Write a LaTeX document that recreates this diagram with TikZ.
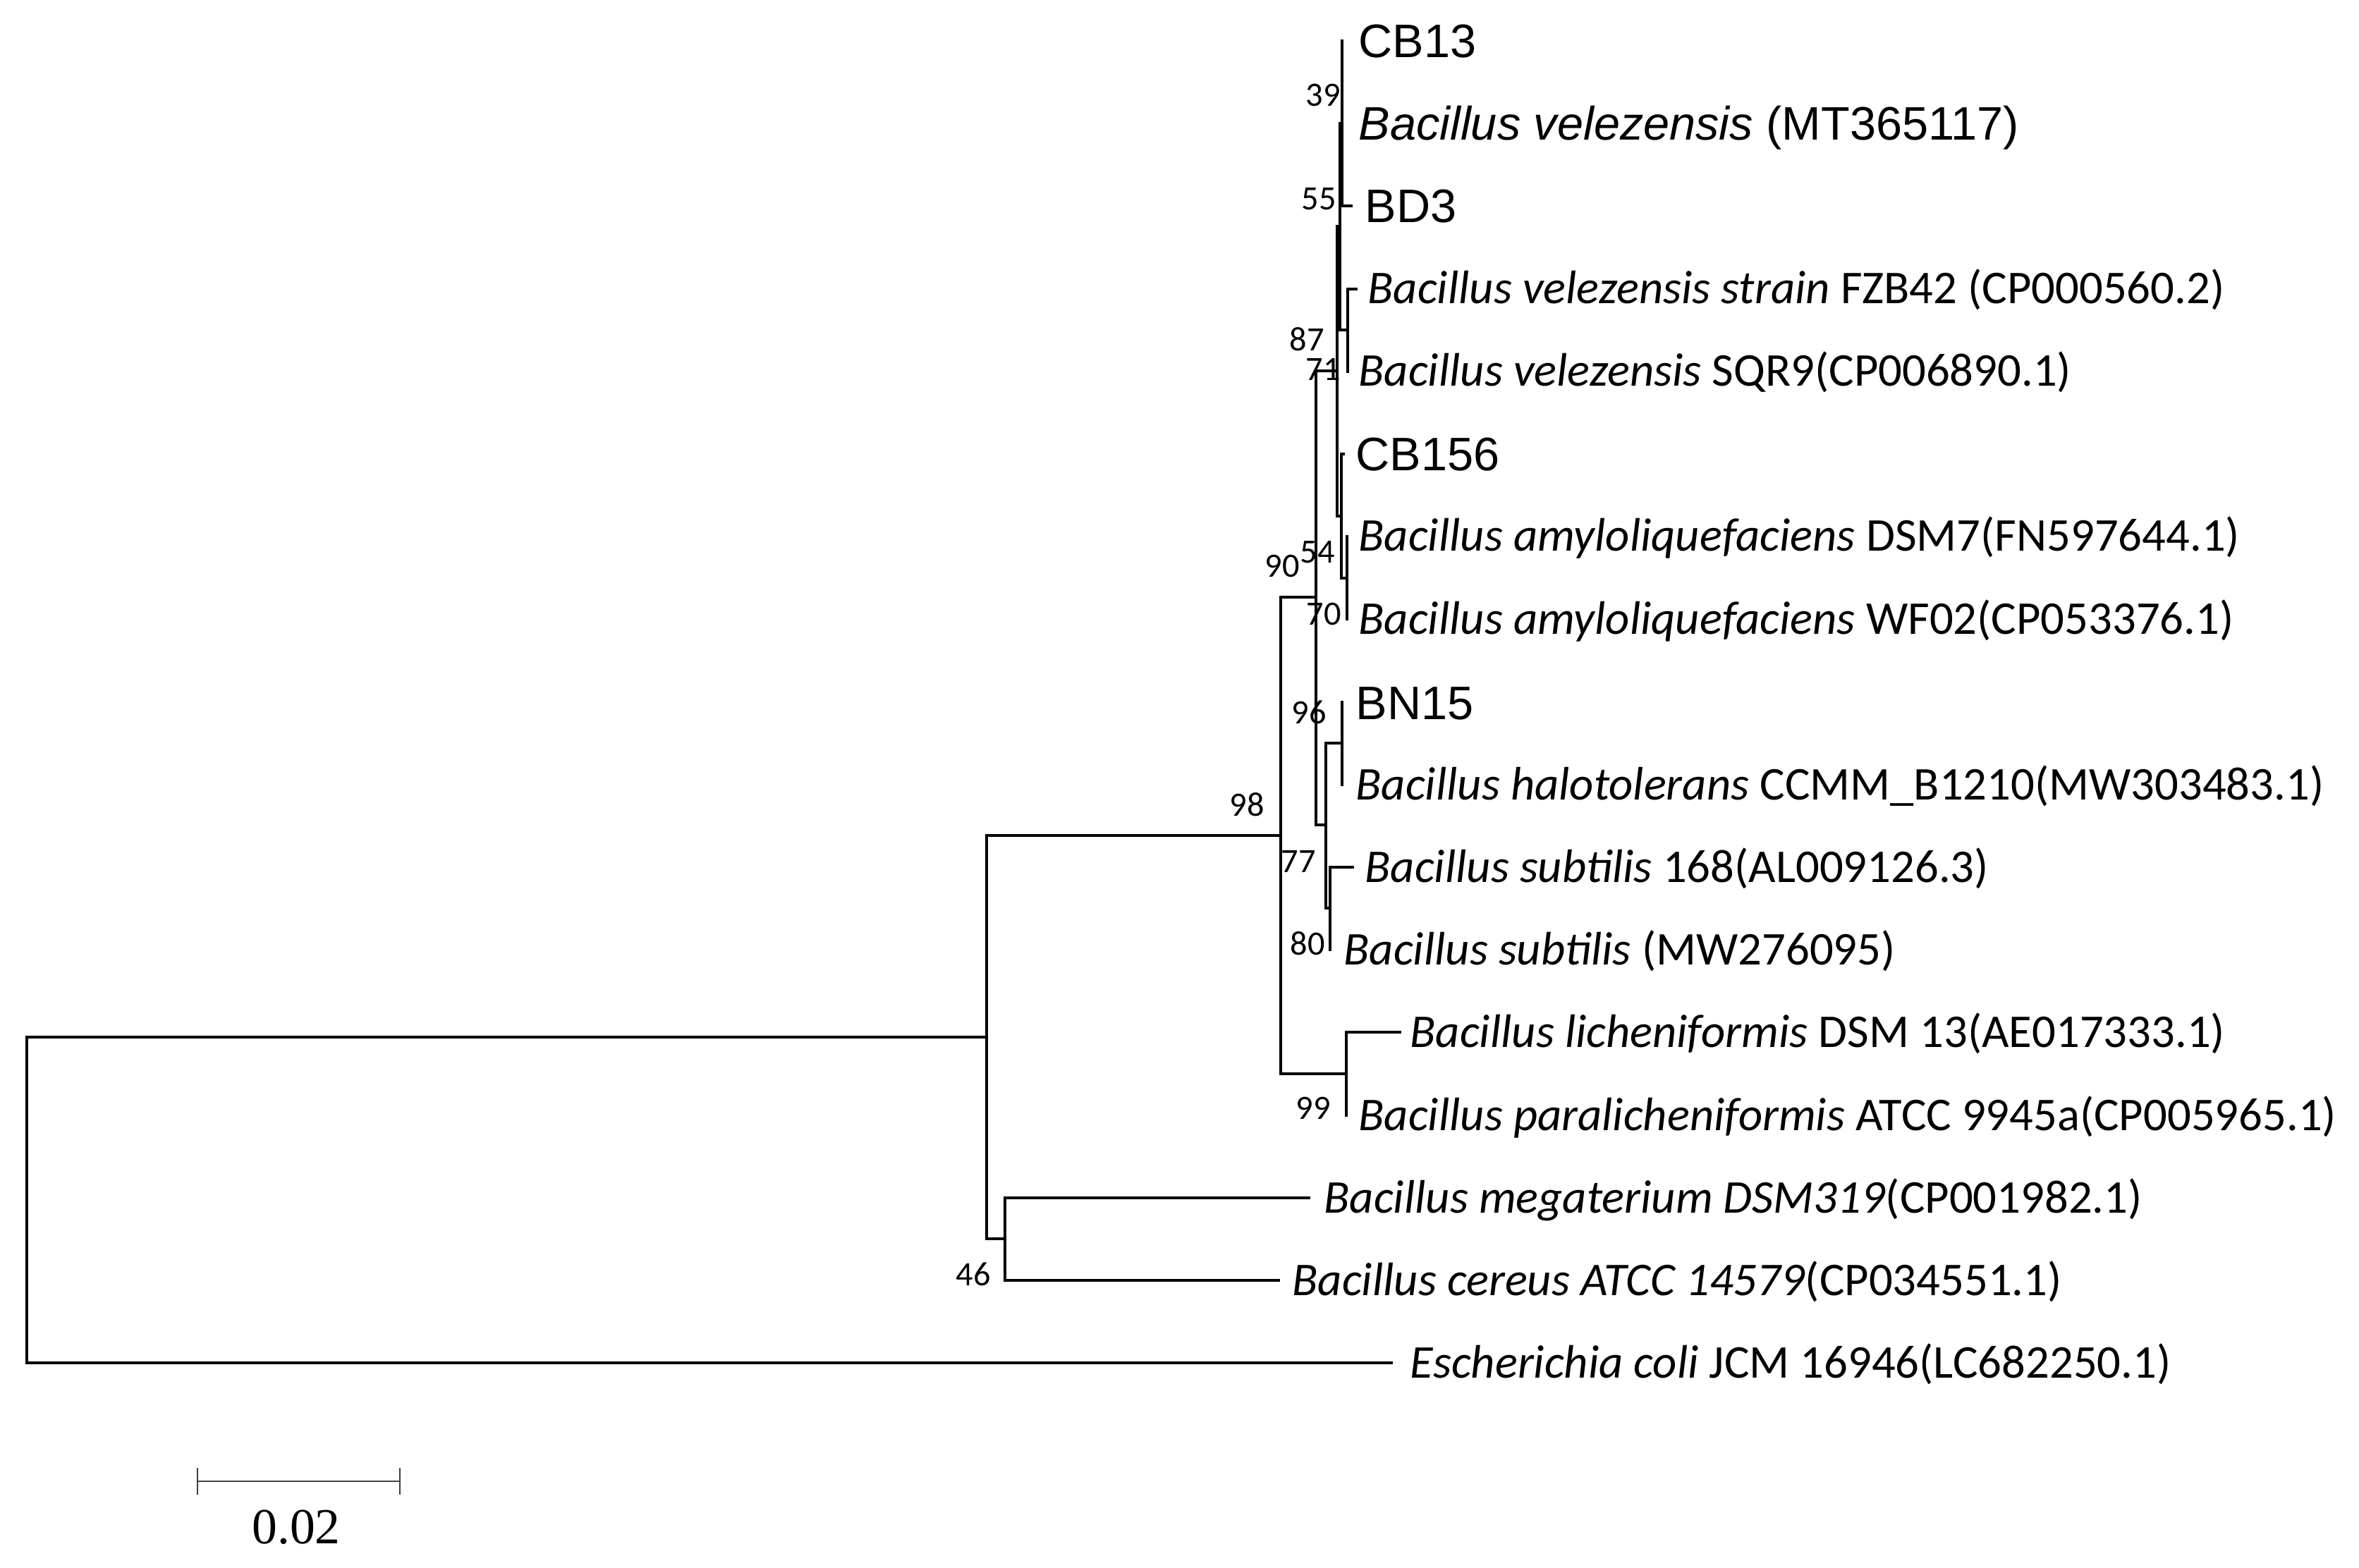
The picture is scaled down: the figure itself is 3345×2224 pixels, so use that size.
\documentclass[tikz,border=0pt]{standalone}
\usepackage{fontspec}
\usetikzlibrary{calc}
\setmainfont{Carlito}
\newfontfamily\arialfam{Liberation Sans}
\newfontfamily\seriffam{Liberation Serif}
\begin{document}
\begin{tikzpicture}[x=0.3pt,y=-0.3pt,
  branch/.style={line width=1.45pt,black,line cap=rect},
  leafA/.style={anchor=base west,inner sep=0pt,font=\arialfam\fontsize{20}{24}\selectfont},
  leafC/.style={anchor=base west,inner sep=0pt,font=\fontsize{20}{24}\selectfont},
  boot/.style={inner sep=0pt,font=\fontsize{14.5}{16}\selectfont},
  scalebar/.style={line width=0.8pt,black!75}]
\useasboundingbox (0,0) rectangle (3345,2224);
% internal nodes
\coordinate (root) at (38,1702);
\coordinate (n1) at (1399,1471);
\coordinate (n46) at (1425,1757);
\coordinate (n98) at (1816,1185);
\coordinate (n99) at (1909,1523);
\coordinate (n90) at (1866,847);
\coordinate (nX) at (1896,526);
\coordinate (n77) at (1880,1170);
\coordinate (n96) at (1903,1054);
\coordinate (n80) at (1886,1288);
\coordinate (n87) at (1900,321);
\coordinate (n54) at (1902,732);
\coordinate (n70) at (1910,820);
\coordinate (n71) at (1911,468);
\coordinate (n55) at (1903,175);
% tips
\coordinate (tCB13) at (1903,58);
\coordinate (tMT) at (1903,175);
\coordinate (tBD3) at (1916,292);
\coordinate (tFZB) at (1923,410);
\coordinate (tSQR) at (1911,527);
\coordinate (tCB156) at (1905,644);
\coordinate (tDSM7) at (1910,761);
\coordinate (tWF02) at (1910,878);
\coordinate (tBN15) at (1903,996);
\coordinate (thalo) at (1903,1113);
\coordinate (tsub168) at (1918,1230);
\coordinate (tsubMW) at (1886,1347);
\coordinate (tlich) at (1985,1464);
\coordinate (tpara) at (1909,1582);
\coordinate (tmega) at (1856,1699);
\coordinate (tcer) at (1813,1816);
\coordinate (teco) at (1973,1933);
% branches
\draw[branch] (root) |- (n1);
\draw[branch] (root) |- (teco);
\draw[branch] (n1) |- (n98);
\draw[branch] (n1) |- (n46);
\draw[branch] (n46) |- (tmega);
\draw[branch] (n46) |- (tcer);
\draw[branch] (n98) |- (n90);
\draw[branch] (n98) |- (n99);
\draw[branch] (n99) |- (tlich);
\draw[branch] (n99) |- (tpara);
\draw[branch] (n90) |- (nX);
\draw[branch] (n90) |- (n77);
\draw[branch] (n77) |- (n96);
\draw[branch] (n77) |- (n80);
\draw[branch] (n96) |- (tBN15);
\draw[branch] (n96) |- (thalo);
\draw[branch] (n80) |- (tsub168);
\draw[branch] (n80) |- (tsubMW);
\draw[branch] (nX) |- (n87);
\draw[branch] (nX) |- (n54);
\draw[branch] (n54) |- (tCB156);
\draw[branch] (n54) |- (n70);
\draw[branch] (n70) |- (tDSM7);
\draw[branch] (n70) |- (tWF02);
\draw[branch] (n87) |- (n55);
\draw[branch] (n87) |- (n71);
\draw[branch] (n71) |- (tFZB);
\draw[branch] (n71) |- (tSQR);
\draw[branch] (n55) |- (tCB13);
\draw[branch] (n55) |- (tMT);
\draw[branch] (n55) |- (tBD3);
% leaf labels
\node[leafA] (lCB13) at (1926,82) {CB13};
\node[leafA] (lMT) at (1926,199) {\textit{Bacillus velezensis} (MT365117)};
\node[leafA] (lBD3) at (1935,316) {BD3};
\node[leafC] (lFZB) at (1939,431) {\textit{Bacillus velezensis strain} FZB42 (CP000560.2)};
\node[leafC] (lSQR) at (1926,548) {\textit{Bacillus velezensis} SQR9(CP006890.1)};
\node[leafA] (lCB156) at (1922,668) {CB156};
\node[leafC] (lDSM7) at (1926,782) {\textit{Bacillus amyloliquefaciens} DSM7(FN597644.1)};
\node[leafC] (lWF02) at (1926,899) {\textit{Bacillus amyloliquefaciens} WF02(CP053376.1)};
\node[leafA] (lBN15) at (1922,1020) {BN15};
\node[leafC] (lhalo) at (1922,1134) {\textit{Bacillus halotolerans} CCMM\_B1210(MW303483.1)};
\node[leafC] (lsub168) at (1935,1251) {\textit{Bacillus subtilis} 168(AL009126.3)};
\node[leafC] (lsubMW) at (1905,1368) {\textit{Bacillus subtilis} (MW276095)};
\node[leafC] (llich) at (1999,1485) {\textit{Bacillus licheniformis} DSM 13(AE017333.1)};
\node[leafC] (lpara) at (1926,1603) {\textit{Bacillus paralicheniformis} ATCC 9945a(CP005965.1)};
\node[leafC] (lmega) at (1877,1720) {\textit{Bacillus megaterium DSM319}(CP001982.1)};
\node[leafC] (lcer) at (1832,1837) {\textit{Bacillus cereus ATCC 14579}(CP034551.1)};
\node[leafC] (leco) at (1999,1954) {\textit{Escherichia coli} JCM 16946(LC682250.1)};
% bootstrap values
\node[boot] (b39) at (1876,135) {39};
\node[boot] (b55) at (1870,282) {55};
\node[boot] (b87) at (1853,481) {87};
\node[boot] (b71) at (1876,524) {71};
\node[boot] (b54) at (1868,783) {54};
\node[boot] (b90) at (1818,803) {90};
\node[boot] (b70) at (1877,871) {70};
\node[boot] (b96) at (1856,1010) {96};
\node[boot] (b98) at (1768,1141) {98};
\node[boot] (b77) at (1841,1222) {77};
\node[boot] (b80) at (1854,1338) {80};
\node[boot] (b99) at (1862,1572) {99};
\node[boot] (b46) at (1380,1807) {46};
% scale bar
\coordinate (sbL) at (280,2101);
\coordinate (sbR) at (567,2101);
\draw[scalebar] (sbL) -- (sbR);
\draw[scalebar] ($(sbL)+(0,-19)$) -- ($(sbL)+(0,19)$);
\draw[scalebar] ($(sbR)+(0,-19)$) -- ($(sbR)+(0,19)$);
\node[inner sep=0pt,font=\seriffam\fontsize{21.5}{24}\selectfont] (sblabel) at (420,2166) {0.02};
\end{tikzpicture}
\end{document}
